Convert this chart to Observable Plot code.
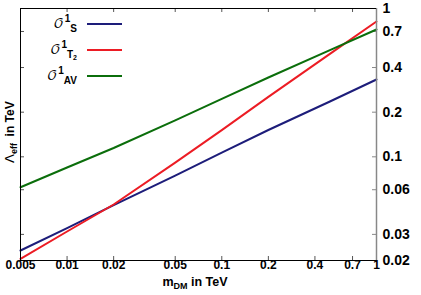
<!DOCTYPE html>
<html>
<head>
<meta charset="utf-8">
<script src="https://cdn.jsdelivr.net/npm/d3@7"></script>
<script src="https://cdn.jsdelivr.net/npm/@observablehq/plot@0.6"></script>
<style>
  html, body { margin: 0; padding: 0; background: white; }
</style>
</head>
<body>
<div id="chart"></div>
<script>
// ---- data ----
const mass = [0.005, 0.01, 0.02, 0.05, 0.1, 0.2, 0.5, 1];
const lambdaS  = [0.02335, 0.0331, 0.0473, 0.0748, 0.1069, 0.1517, 0.236, 0.332];
const lambdaT2 = [0.02053, 0.03137, 0.0477, 0.0914, 0.1512, 0.2535, 0.4942, 0.8175];
const lambdaAV = [0.0624, 0.0847, 0.1147, 0.1763, 0.2457, 0.3425, 0.5234, 0.7217];
const seriesKeys = ["S", "T2", "AV"];
const seriesColors = ["#1d1d7a", "#ec1c24", "#0b6e0b"];

const xTicks = [0.005, 0.01, 0.02, 0.05, 0.1, 0.2, 0.4, 0.7, 1];
const xTickLabels = ["0.005", "0.01", "0.02", "0.05", "0.1", "0.2", "0.4", "0.7", "1"];
const yTicks = [0.02, 0.03, 0.06, 0.1, 0.2, 0.4, 0.7, 1];
const yTickLabels = ["0.02", "0.03", "0.06", "0.1", "0.2", "0.4", "0.7", "1"];

// ---- build table ----
const seriesValues = [lambdaS, lambdaT2, lambdaAV];
const table = [];
seriesKeys.forEach((k, s) => mass.forEach((m, i) => table.push({series: k, m, v: seriesValues[s][i]})));
const xLab = new Map(xTicks.map((t, i) => [t, xTickLabels[i]]));
const yLab = new Map(yTicks.map((t, i) => [t, yTickLabels[i]]));

const W = 421, H = 295, mL = 20, mR = 45, mT = 8, mB = 35;
const iW = W - mL - mR, iH = H - mT - mB;
const tk = 4;
const font = "'Liberation Sans', Arial, sans-serif";

const chart = Plot.plot({
  width: W, height: H,
  marginLeft: mL, marginRight: mR, marginTop: mT, marginBottom: mB,
  style: {fontFamily: font, background: "white", color: "black"},
  x: {type: "log", domain: [0.005, 1], axis: null},
  y: {type: "log", domain: [0.02, 1], axis: null},
  color: {domain: seriesKeys, range: seriesColors},
  marks: [
    Plot.tickX(xTicks, {x: d => d, stroke: "#555", insetTop: iH - tk}),
    Plot.tickX(xTicks, {x: d => d, stroke: "#555", insetBottom: iH - tk}),
    Plot.tickY(yTicks, {y: d => d, stroke: "#555", insetRight: iW - tk}),
    Plot.tickY(yTicks, {y: d => d, stroke: "#888", insetLeft: iW - tk}),
    Plot.line(table, {x: "m", y: "v", z: "series", stroke: "series", strokeWidth: 2}),
    Plot.ruleX([0.005], {stroke: "black"}),
    Plot.ruleX([1], {stroke: "#888", strokeWidth: 1.5}),
    Plot.ruleY([0.02], {stroke: "black"}),
    Plot.ruleY([1], {stroke: "black"}),
    Plot.text(xTicks, {x: d => d, text: d => xLab.get(d), frameAnchor: "bottom", dy: 8.5,
      fontSize: 12, fontWeight: "bold", fill: "black"}),
    Plot.text(yTicks, {y: d => d, text: d => yLab.get(d), frameAnchor: "right", dx: 6, textAnchor: "start",
      fontSize: 14, fontWeight: "bold", fill: "black"})
  ]
});
document.getElementById("chart").appendChild(chart);

// ---- titles and legend (text with sub/superscripts) ----
const svg = d3.select(chart);

const xt = svg.append("text")
  .attr("x", mL + iW / 2 - 3).attr("y", 285.5)
  .attr("text-anchor", "middle").attr("font-family", font)
  .attr("font-weight", "bold").attr("font-size", 12.5).attr("fill", "black");
xt.append("tspan").text("m");
xt.append("tspan").attr("font-size", 9).attr("dy", 3).text("DM");
xt.append("tspan").attr("dy", -3).text(" in TeV");

const yt = svg.append("text")
  .attr("transform", `translate(14,163) rotate(-90)`)
  .attr("text-anchor", "start").attr("font-family", font)
  .attr("font-weight", "bold").attr("font-size", 12).attr("fill", "black");
yt.append("tspan").attr("font-weight", "normal").attr("font-family", "'DejaVu Sans', sans-serif").attr("font-size", 13).text("\u039B");
yt.append("tspan").attr("font-size", 9).attr("dy", 3).text("eff");
yt.append("tspan").attr("dy", -3).text("  in TeV");

const legendRows = [
  {key: "S", sub: "S", sub2: ""},
  {key: "T2", sub: "T", sub2: "2"},
  {key: "AV", sub: "AV", sub2: ""}
];
const lg = svg.append("g");
legendRows.forEach((r, i) => {
  const y = 24 + i * 26;
  const t = lg.append("text")
    .attr("x", 77).attr("y", y + 4)
    .attr("text-anchor", "end").attr("font-family", font).attr("fill", "black");
  t.append("tspan").attr("font-family", "'DejaVu Math TeX Gyre', 'DejaVu Serif', serif")
    .attr("font-size", 13).text("\uD835\uDCAA");
  t.append("tspan").attr("font-size", 10).attr("font-weight", "bold").attr("dx", 1).attr("dy", -6).text("1");
  t.append("tspan").attr("font-size", 10).attr("font-weight", "bold").attr("dy", 10).text(r.sub);
  if (r.sub2) t.append("tspan").attr("font-size", 7).attr("font-weight", "bold").attr("dy", 2).text(r.sub2);
  lg.append("line")
    .attr("x1", 87).attr("x2", 122).attr("y1", y).attr("y2", y)
    .attr("stroke", seriesColors[seriesKeys.indexOf(r.key)]).attr("stroke-width", 2);
});
</script>
</body>
</html>
